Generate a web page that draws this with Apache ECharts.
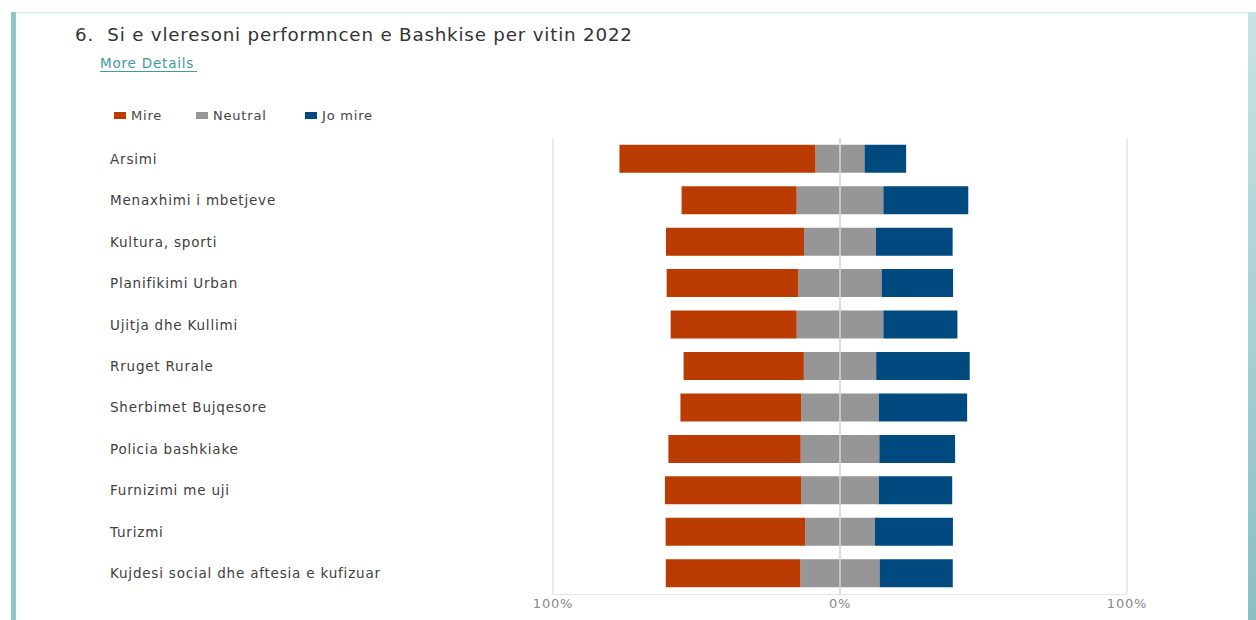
<!DOCTYPE html>
<html>
<head>
<meta charset="utf-8">
<script src="https://cdn.jsdelivr.net/npm/echarts@6/dist/echarts.min.js"></script>
<style>
html,body{margin:0;padding:0;background:#fff;}
#chart{width:1256px;height:620px;}
#chart text{letter-spacing:0.8px;}
</style>
</head>
<body>
<div id="chart"></div>
<script>
const categories = [
  'Arsimi',
  'Menaxhimi i mbetjeve',
  'Kultura, sporti',
  'Planifikimi Urban',
  'Ujitja dhe Kullimi',
  'Rruget Rurale',
  'Sherbimet Bujqesore',
  'Policia bashkiake',
  'Furnizimi me uji',
  'Turizmi',
  'Kujdesi social dhe aftesia e kufizuar'
];
const mire    = [68.3, 40.1, 48.1, 45.9, 43.9, 41.9, 42.1, 46.1, 47.5, 48.6, 46.9];
const neutral = [17.1, 30.2, 25.1, 29.0, 30.2, 25.2, 27.0, 27.4, 27.0, 24.3, 27.6];
const joMire  = [14.5, 29.6, 26.7, 24.9, 25.8, 32.6, 30.8, 26.4, 25.6, 27.2, 25.5];
const xTicks = [-100, 0, 100];

const colors = { mire: '#bb3c02', neutral: '#969696', jo: '#004a80' };
const font = 'DejaVu Sans';

const chart = echarts.init(document.getElementById('chart'), null, { renderer: 'svg' });

function legendAt(name, left) {
  return {
    data: [name], left: left, top: 104,
    itemWidth: 12, itemHeight: 7, icon: 'rect',
    textStyle: { fontFamily: font, fontSize: 13, color: '#444' },
    selectedMode: false
  };
}

const barW = 28;
chart.setOption({
  animation: false,
  textStyle: { fontFamily: font },
  legend: [legendAt('Mire', 109), legendAt('Neutral', 191), legendAt('Jo mire', 300)],
  grid: { left: 553, right: 129, top: 138, bottom: 26, containLabel: false },
  xAxis: {
    type: 'value', min: -100, max: 100, interval: 100,
    axisLabel: {
      color: '#888', fontSize: 13, fontFamily: font, margin: 3,
      formatter: v => Math.abs(v) + '%'
    },
    axisLine: { show: true, lineStyle: { color: '#e6e6e6' } },
    axisTick: { show: false },
    splitLine: { show: true, lineStyle: { color: '#e6e6e6', width: 1.5 } }
  },
  yAxis: {
    type: 'category', data: categories, inverse: true,
    axisLine: { show: false }, axisTick: { show: false },
    axisLabel: {
      align: 'left', margin: 443, color: '#404040', fontSize: 13.5, fontFamily: font,
      padding: [0, 0, 2, 0]
    }
  },
  series: [
    {
      name: 'Neutral', type: 'bar', stack: 'd', barWidth: barW,
      itemStyle: { color: colors.neutral },
      data: neutral.map(v => -v / 2)
    },
    {
      name: 'Mire', type: 'bar', stack: 'd', barWidth: barW,
      itemStyle: { color: colors.mire },
      data: mire.map(v => -v)
    },
    {
      name: 'Neutral', type: 'bar', stack: 'd', barWidth: barW,
      itemStyle: { color: colors.neutral },
      data: neutral.map(v => v / 2),
      markLine: {
        silent: true, symbol: 'none', label: { show: false },
        lineStyle: { color: '#d9d9d9', width: 1.5, type: 'solid' },
        data: [{ xAxis: 0 }], z: 10
      }
    },
    {
      name: 'Jo mire', type: 'bar', stack: 'd', barWidth: barW,
      itemStyle: { color: colors.jo },
      data: joMire
    }
  ],
  graphic: [
    { type: 'rect', shape: { x: 11, y: 12, width: 1240, height: 1.5 }, style: { fill: '#d6ebeb' }, silent: true },
    { type: 'rect', shape: { x: 11, y: 12, width: 5, height: 608 }, style: { fill: '#8fc5c6' }, silent: true },
    {
      type: 'rect', shape: { x: 1248, y: 12, width: 8, height: 608 }, silent: true,
      style: { fill: new echarts.graphic.LinearGradient(0, 0, 0, 1, [
        { offset: 0, color: '#c9e3e4' }, { offset: 1, color: '#88c0c2' }
      ]) }
    },
    {
      type: 'text', left: 75, top: 25, silent: true,
      style: { text: '6.  Si e vleresoni performncen e Bashkise per vitin 2022', font: '18.3px "DejaVu Sans"', fill: '#333' }
    },
    {
      type: 'text', left: 100, top: 56, silent: true,
      style: { text: 'More Details', font: '13.5px "DejaVu Sans"', fill: '#3a9c9c' }
    },
    { type: 'rect', shape: { x: 100, y: 71, width: 97, height: 1 }, style: { fill: '#3a9c9c' }, silent: true }
  ]
});
</script>
</body>
</html>
